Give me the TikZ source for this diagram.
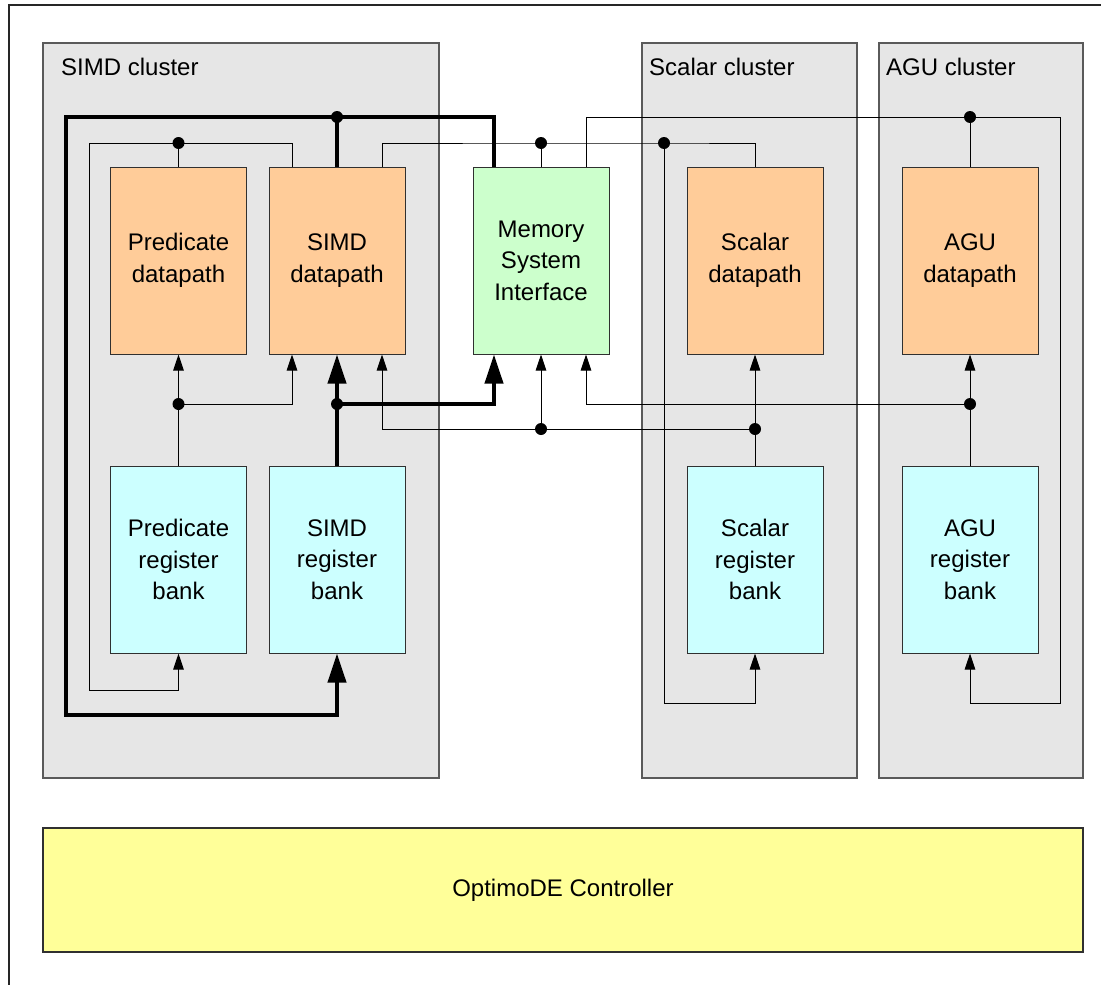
\documentclass[tikz,border=0pt]{standalone}
\usepackage{fontspec}
\setmainfont{Liberation Sans}
\usetikzlibrary{arrows.meta}
\definecolor{clusterfill}{HTML}{E6E6E6}
\definecolor{clusterline}{HTML}{5A5A5A}
\definecolor{boxline}{HTML}{303030}
\definecolor{dpfill}{HTML}{FFCC99}
\definecolor{rbfill}{HTML}{CCFFFF}
\definecolor{msifill}{HTML}{CCFFCC}
\definecolor{ctrlfill}{HTML}{FFFF99}
\newcommand\diagfont{\fontsize{24}{31.5}\selectfont}
\begin{document}
\begin{tikzpicture}[x=1pt,y=-1pt,
  cluster/.style={draw=clusterline, fill=clusterfill, line width=1.2pt, rectangle, inner sep=0pt},
  unitbox/.style={draw=boxline, line width=1pt, rectangle, inner sep=0pt,
    minimum width=136pt, minimum height=187pt, align=center, font=\diagfont},
  datapath/.style={unitbox, fill=dpfill},
  regbank/.style={unitbox, fill=rbfill},
  memif/.style={unitbox, fill=msifill},
  clusterlabel/.style={anchor=base west, inner sep=0pt, font=\diagfont},
  wire/.style={draw=black, line width=1pt},
  bus/.style={draw=black, line width=4pt},
  tip/.style={-{Triangle[length=16pt,width=10.5pt]}},
  bustip/.style={-{Triangle[length=29pt,width=18pt]}},
  frame/.style={draw=black!85, line width=1.2pt}]

\useasboundingbox (0,0) rectangle (1101,985);

% outer frame (top and left edges)
\coordinate (frameTR) at (1101,5);
\coordinate (frameTL) at (9,5);
\coordinate (frameBL) at (9,985);
\draw[frame] (frameTR) -- (frameTL) -- (frameBL);

% clusters
\node[cluster, minimum width=396pt, minimum height=735pt] (simdcl) at (241,410.5) {};
\node[cluster, minimum width=215pt, minimum height=735pt] (scalcl) at (749.5,410.5) {};
\node[cluster, minimum width=204pt, minimum height=735pt] (agucl) at (981,410.5) {};
\node[clusterlabel] (simdlbl) at (61,75.5) {SIMD cluster};
\node[clusterlabel] (scallbl) at (649,75.5) {Scalar cluster};
\node[clusterlabel] (agulbl) at (886,75.5) {AGU cluster};

% controller
\node[draw=boxline, fill=ctrlfill, line width=1.2pt, inner sep=0pt,
      minimum width=1040pt, minimum height=124pt, font=\diagfont] (ctrl) at (563,890) {OptimoDE Controller};

% functional units
\node[datapath] (pdp) at (178.5,260.5) {Predicate\\datapath};
\node[datapath] (sdp) at (337,260.5) {SIMD\\datapath};
\node[memif]    (msi) at (541,260.5) {Memory\\System\\Interface};
\node[datapath] (cdp) at (755,260.5) {Scalar\\datapath};
\node[datapath] (adp) at (970,260.5) {AGU\\datapath};
\node[regbank]  (prb) at (178.5,559.5) {Predicate\\register\\bank};
\node[regbank]  (srb) at (337,559.5) {SIMD\\register\\bank};
\node[regbank]  (crb) at (755,559.5) {Scalar\\register\\bank};
\node[regbank]  (arb) at (970,559.5) {AGU\\register\\bank};

% side ports
\coordinate (sdpT1) at ([xshift=-45pt]sdp.north);
\coordinate (sdpT3) at ([xshift=45pt]sdp.north);
\coordinate (sdpB1) at ([xshift=-45pt]sdp.south);
\coordinate (sdpB3) at ([xshift=45pt]sdp.south);
\coordinate (msiT1) at ([xshift=-47pt]msi.north);
\coordinate (msiT3) at ([xshift=45pt]msi.north);
\coordinate (msiB1) at ([xshift=-47pt]msi.south);
\coordinate (msiB3) at ([xshift=45pt]msi.south);

% junctions
\coordinate (jT)  at (337,117);
\coordinate (jB)  at (337,404);
\coordinate (jP1) at (178.5,143);
\coordinate (jP2) at (178.5,404);
\coordinate (jC1) at (541,143);
\coordinate (jC2) at (664,143);
\coordinate (jC3) at (755,429);
\coordinate (jC4) at (541,429);
\coordinate (jA1) at (970,117);
\coordinate (jA2) at (970,404);

% loop corners
\coordinate (busBL)  at (66,715);
\coordinate (predBL) at (89,690);
\coordinate (scalBL) at (664,703);
\coordinate (aguBR)  at (1060,703);

% SIMD buses
\draw[bus] (sdp.north) -- (jT);
\draw[bus, bustip] (jT) -| (busBL) -| (srb.south);
\draw[bus] (jT) -| (msiT1);
\draw[bus, bustip] (srb.north) -- (sdp.south);
\draw[bus, bustip] (jB) -| (msiB1);

% predicate paths
\draw[wire] (pdp.north) -- (jP1);
\draw[wire] (jP1) -| (sdpT1);
\draw[wire, tip] (jP1) -| (predBL) -| (prb.south);
\draw[wire, tip] (prb.north) -- (pdp.south);
\draw[wire, tip] (jP2) -| (sdpB1);

% scalar paths
\draw[wire] (cdp.north) |- (jC2) -- (jC1) -| (sdpT3);
\draw[wire] (msi.north) -- (jC1);
\draw[wire, tip] (jC2) -- (scalBL) -| (crb.south);
\draw[wire, tip] (crb.north) -- (cdp.south);
\draw[wire, tip] (jC3) -| (sdpB3);
\draw[wire, tip] (jC4) -- (msi.south);

% AGU paths
\draw[wire] (adp.north) -- (jA1);
\draw[wire] (jA1) -| (msiT3);
\draw[wire, tip] (jA1) -| (aguBR) -| (arb.south);
\draw[wire, tip] (arb.north) -- (adp.south);
\draw[wire, tip] (jA2) -| (msiB3);

% junction dots
\foreach \j in {jT,jB,jP1,jP2,jC1,jC2,jC3,jC4,jA1,jA2}
  \fill (\j) circle[radius=6pt];
\end{tikzpicture}
\end{document}
